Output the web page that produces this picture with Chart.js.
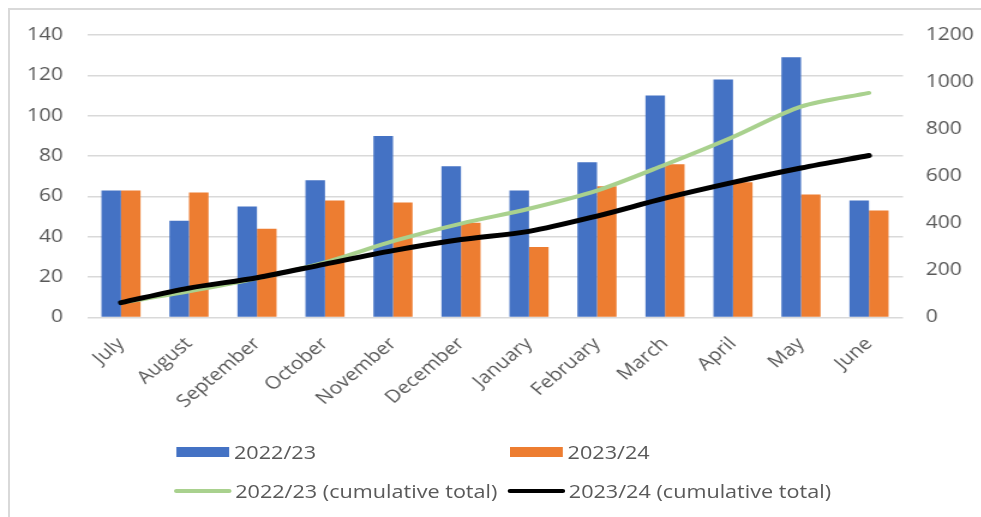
<!DOCTYPE html>
<html>
<head>
<meta charset="utf-8">
<script src="https://cdn.jsdelivr.net/npm/chart.js@4.4.1/dist/chart.umd.min.js"></script>
<style>
  html, body { margin: 0; padding: 0; background: #fff; overflow: hidden; }
  .frame {
    position: absolute; left: 8px; top: 8px; width: 1100px; height: 700px;
    border-left: 2px solid #d9d9d9; border-top: 2px solid #d9d9d9;
  }
  /* the chart is laid out narrow and widened, so text and angles come out wide */
  .stretch {
    position: absolute; left: 0; top: 0; width: 818px; height: 517px;
    transform: scaleX(1.2); transform-origin: 0 0;
  }
  #chart { position: absolute; left: 0; top: 0; }
  .legend {
    position: absolute; left: 145px; top: 440px;
    display: grid; grid-template-columns: 278px auto; row-gap: 15px;
    font-family: "Open Sans", sans-serif; font-size: 18px; color: #595959;
  }
  .item { display: flex; align-items: center; height: 24px; white-space: nowrap; }
  .swatch { width: 44px; height: 10px; margin: 0 4px 0 2px; }
  .stroke { width: 48px; height: 4px; border-radius: 2px; margin-right: 3px; }
</style>
</head>
<body>
<div class="frame"></div>
<div class="stretch">
  <canvas id="chart" width="818" height="430"></canvas>
  <div class="legend" id="legend"></div>
</div>
<script>
const months = ['July', 'August', 'September', 'October', 'November', 'December',
  'January', 'February', 'March', 'April', 'May', 'June'];

const monthly2223 = [63, 48, 55, 68, 90, 75, 63, 77, 110, 118, 129, 58];
const monthly2324 = [63, 62, 44, 58, 57, 47, 35, 65, 76, 67, 61, 53];

const cumulative2223 = [63, 111, 166, 234, 324, 399, 462, 539, 649, 767, 896, 954];
const cumulative2324 = [63, 125, 169, 227, 284, 331, 366, 431, 507, 574, 635, 688];

const leftTicks = [0, 20, 40, 60, 80, 100, 120, 140];
const rightTicks = [0, 200, 400, 600, 800, 1000, 1200];

const tickFont = { family: 'Open Sans', size: 17.5 };
const tickColor = '#595959';

const datasets = [
  {
    type: 'bar', label: '2022/23', data: monthly2223, yAxisID: 'y',
    backgroundColor: '#4472c4', order: 2,
    categoryPercentage: 0.575, barPercentage: 1.0
  },
  {
    type: 'bar', label: '2023/24', data: monthly2324, yAxisID: 'y',
    backgroundColor: '#ed7d31', order: 2,
    categoryPercentage: 0.575, barPercentage: 1.0
  },
  {
    type: 'line', label: '2022/23 (cumulative total)', data: cumulative2223, yAxisID: 'y1',
    borderColor: '#a9d18e', borderWidth: 4, pointRadius: 0, tension: 0.3,
    borderCapStyle: 'round', borderJoinStyle: 'round', order: 1
  },
  {
    type: 'line', label: '2023/24 (cumulative total)', data: cumulative2324, yAxisID: 'y1',
    borderColor: '#000000', borderWidth: 5, pointRadius: 0, tension: 0.3,
    borderCapStyle: 'round', borderJoinStyle: 'round', order: 0
  }
];

const plain = (v) => String(v);

const chart = new Chart(document.getElementById('chart'), {
  type: 'bar',
  data: { labels: months, datasets: datasets },
  options: {
    responsive: false,
    animation: false,
    devicePixelRatio: 1,
    layout: { padding: { top: 35, bottom: 0, left: 0, right: 0 } },
    plugins: { legend: { display: false }, tooltip: { enabled: false } },
    scales: {
      x: {
        grid: { display: false },
        border: { display: false },
        ticks: {
          font: tickFont, color: tickColor,
          minRotation: 45, maxRotation: 45, padding: 8, autoSkip: false
        },
        afterFit: (scale) => { scale.height = 112.5; }
      },
      y: {
        position: 'left',
        min: 0, max: 140,
        afterBuildTicks: (scale) => { scale.ticks = leftTicks.map(v => ({ value: v })); },
        grid: { color: '#d9d9d9', lineWidth: 1.5, drawTicks: false },
        border: { display: false },
        ticks: { font: tickFont, color: tickColor, padding: 20, callback: plain },
        afterFit: (scale) => { scale.width = 72.5; }
      },
      y1: {
        position: 'right',
        min: 0, max: 1200,
        afterBuildTicks: (scale) => { scale.ticks = rightTicks.map(v => ({ value: v })); },
        grid: { display: false, drawTicks: false },
        border: { display: false },
        ticks: { font: tickFont, color: tickColor, padding: 19, callback: plain },
        afterFit: (scale) => { scale.width = 65.5; }
      }
    }
  }
});

// legend laid out in two columns, built from the datasets
const legend = document.getElementById('legend');
chart.data.datasets.forEach(ds => {
  const item = document.createElement('div');
  item.className = 'item';
  const mark = document.createElement('span');
  if (ds.type === 'bar') {
    mark.className = 'swatch';
    mark.style.background = ds.backgroundColor;
  } else {
    mark.className = 'stroke';
    mark.style.background = ds.borderColor;
  }
  const text = document.createElement('span');
  text.textContent = ds.label;
  item.appendChild(mark);
  item.appendChild(text);
  legend.appendChild(item);
});
</script>
</body>
</html>
